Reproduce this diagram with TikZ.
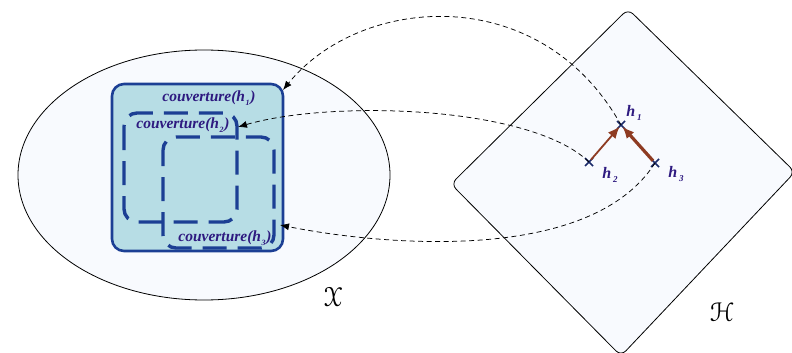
\documentclass[tikz,border=0pt]{standalone}
\usepackage{fontspec}
\usepackage[mathcal]{eucal}
\usetikzlibrary{arrows.meta}
\newfontfamily\labfont{Liberation Serif}
\definecolor{pale}{HTML}{F8FAFE}
\definecolor{covfill}{HTML}{B7DDE5}
\definecolor{covline}{HTML}{1C3F94}
\definecolor{labcol}{HTML}{2E1A80}
\definecolor{brownarr}{HTML}{8E3B22}
\definecolor{crosscol}{HTML}{1A2A6A}
\newcommand{\covlab}[1]{{\labfont\bfseries\itshape couverture(h\kern0.5pt\raisebox{-0.28em}{\footnotesize #1}\kern0.8pt)}}
\newcommand{\hlab}[1]{{\labfont\bfseries\itshape h\kern2pt\raisebox{-0.3em}{\small #1}}}
\tikzset{
  space/.style={draw=black, line width=0.8pt, fill=pale},
  covbox/.style={draw=covline, line width=2.6pt, fill=covfill, rounded corners=12pt},
  dashbox/.style={draw=covline, line width=3.4pt, dash pattern=on 24pt off 11pt, rounded corners=13pt},
  covtext/.style={text=labcol, font=\fontsize{15.5}{17}\selectfont, inner sep=0pt},
  htext/.style={text=labcol, font=\fontsize{16}{18}\selectfont, inner sep=0pt},
  link/.style={draw=black, line width=0.75pt, dash pattern=on 5pt off 3.5pt, -{Latex[length=9pt,width=7pt]}},
  hop/.style={draw=brownarr, -{Latex[length=12pt,width=10pt]}},
  cross/.style={draw=crosscol, line width=1.5pt}
}
\begin{document}
\begin{tikzpicture}[x=1pt,y=-1pt]
\useasboundingbox (0,0) rectangle (792,353);
% space X
\draw[space] (204,175) ellipse [x radius=186, y radius=125];
\node (Xlab) at (333,297) {\fontsize{27}{29}\selectfont$\mathcal{X}$};
% space H
\draw[space, rounded corners=7pt] (628,9) -- (795,172) -- (621,356) -- (451,184) -- cycle;
\node (Hlab) at (722,312) {\fontsize{27}{29}\selectfont$\mathcal{H}$};
% coverage
\draw[covbox] (112,84) rectangle (283,251);
\draw[dashbox] (124,113) rectangle (237,222);
\draw[dashbox, dash phase=8pt] (163,137) rectangle (274,248);
\node[covtext] (c1) at (209,98) {\covlab{1}};
\node[covtext] (c2) at (183,125) {\covlab{2}};
\node[covtext] (c3) at (225,238) {\covlab{3}};
% hypotheses
\coordinate (h1) at (621,125);
\coordinate (h2) at (589,162);
\coordinate (h3) at (655,163);
\foreach \p in {h1,h2,h3}{
  \draw[cross] ([shift={(-4,-4)}]\p) -- ([shift={(4,4)}]\p);
  \draw[cross] ([shift={(-4,4)}]\p) -- ([shift={(4,-4)}]\p);
}
\node[htext] (l1) at (634,113) {\hlab{1}};
\node[htext] (l2) at (610,175) {\hlab{2}};
\node[htext] (l3) at (676,174) {\hlab{3}};
\draw[hop, line width=1.8pt, shorten <=3pt, shorten >=2pt] (h2) -- (h1);
\draw[hop, line width=3.2pt, shorten <=3pt, shorten >=2pt] (h3) -- (h1);
% links
\coordinate (t1) at (283,90);
\coordinate (t2) at (238,127);
\coordinate (t3) at (280,225);
\draw[link] (h1) .. controls (540,-20) and (360,-5) .. (t1);
\draw[link] (h2) .. controls (530,105) and (330,100) .. (t2);
\draw[link] (h3) .. controls (590,265) and (380,245) .. (t3);
\end{tikzpicture}
\end{document}
